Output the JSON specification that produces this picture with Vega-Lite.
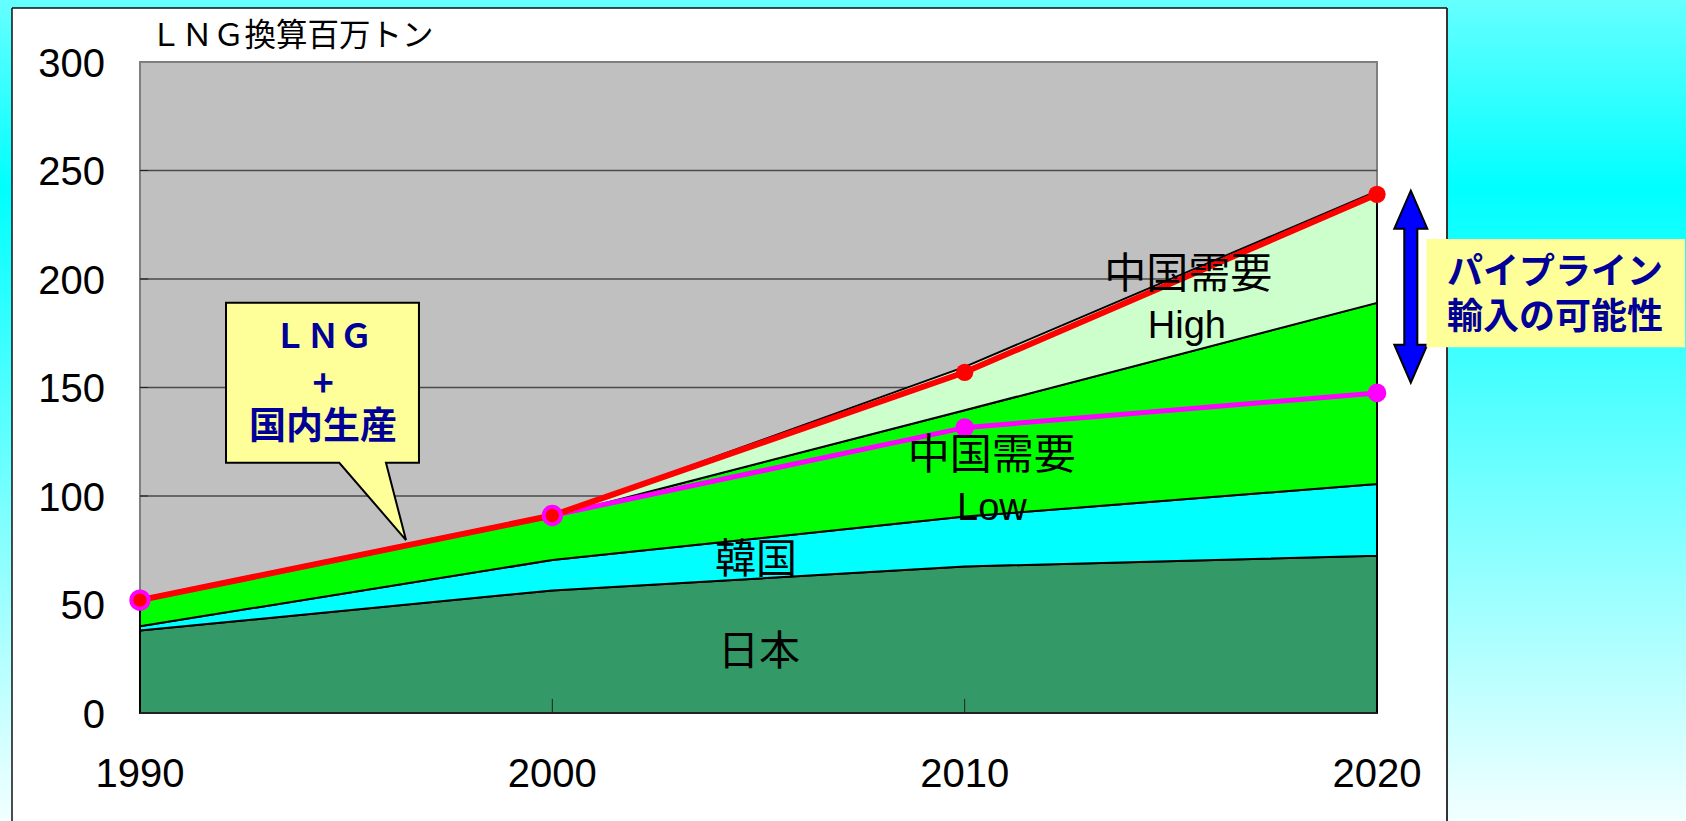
{
  "$schema": "https://vega.github.io/schema/vega-lite/v6.json",
  "width": 1686,
  "height": 821,
  "autosize": "none",
  "padding": 0,
  "background": "#E6FFFF",
  "config": {"view": {"stroke": null}},
  "datasets": {
    "stack": [
      {"year": 1990, "series": "1 日本", "value": 38},
      {"year": 2000, "series": "1 日本", "value": 56.5},
      {"year": 2010, "series": "1 日本", "value": 67.5},
      {"year": 2020, "series": "1 日本", "value": 72.5},
      {"year": 1990, "series": "2 韓国", "value": 2},
      {"year": 2000, "series": "2 韓国", "value": 14},
      {"year": 2010, "series": "2 韓国", "value": 23},
      {"year": 2020, "series": "2 韓国", "value": 33},
      {"year": 1990, "series": "3 中国需要Low", "value": 11.5},
      {"year": 2000, "series": "3 中国需要Low", "value": 20},
      {"year": 2010, "series": "3 中国需要Low", "value": 49},
      {"year": 2020, "series": "3 中国需要Low", "value": 83.5},
      {"year": 1990, "series": "4 中国需要High", "value": 0.5},
      {"year": 2000, "series": "4 中国需要High", "value": 0.5},
      {"year": 2010, "series": "4 中国需要High", "value": 20},
      {"year": 2020, "series": "4 中国需要High", "value": 51.5}
    ],
    "lng_high": [
      {"year": 1990, "value": 52},
      {"year": 2000, "value": 91},
      {"year": 2010, "value": 157},
      {"year": 2020, "value": 239}
    ],
    "lng_low": [
      {"year": 1990, "value": 52},
      {"year": 2000, "value": 91},
      {"year": 2010, "value": 131.5},
      {"year": 2020, "value": 147.5}
    ],
    "yticks": [{"v": 0}, {"v": 50}, {"v": 100}, {"v": 150}, {"v": 200}, {"v": 250}, {"v": 300}],
    "years": [{"year": 1990}, {"year": 2000}, {"year": 2010}, {"year": 2020}]
  },
  "layer": [
    {
      "data": {"values": [{}]},
      "mark": {"type": "rect", "fill": {"gradient": "linear", "x1": 0, "y1": 0, "x2": 0, "y2": 1, "stops": [{"offset": 0, "color": "#66FFFF"}, {"offset": 0.23, "color": "#00FFFF"}, {"offset": 1, "color": "#F2FFFF"}]}},
      "encoding": {
        "x": {"datum": 1986.605, "type": "quantitative", "scale": {"domain": [1986.605, 2027.494], "nice": false, "zero": false}, "axis": null},
        "x2": {"datum": 2027.494},
        "y": {"datum": 328.57, "type": "quantitative", "scale": {"domain": [-49.77, 328.57], "nice": false, "zero": false}, "axis": null},
        "y2": {"datum": -49.77}
      }
    },
    {
      "data": {"values": [{}]},
      "mark": {"type": "rect", "fill": "#FFFFFF"},
      "encoding": {
        "x": {"datum": 1986.896, "type": "quantitative", "scale": {"domain": [1986.605, 2027.494], "nice": false, "zero": false}, "axis": null},
        "x2": {"datum": 2021.698},
        "y": {"datum": 324.88, "type": "quantitative", "scale": {"domain": [-49.77, 328.57], "nice": false, "zero": false}, "axis": null},
        "y2": {"datum": -49.77}
      }
    },
    {
      "data": {"values": [{}]},
      "mark": {"type": "rule", "stroke": "#111111", "strokeWidth": 1.5},
      "encoding": {
        "x": {"datum": 1986.896, "type": "quantitative", "scale": {"domain": [1986.605, 2027.494], "nice": false, "zero": false}, "axis": null},
        "y": {"datum": 324.88, "type": "quantitative", "scale": {"domain": [-49.77, 328.57], "nice": false, "zero": false}, "axis": null},
        "y2": {"datum": -49.77}
      }
    },
    {
      "data": {"values": [{}]},
      "mark": {"type": "rule", "stroke": "#333333", "strokeWidth": 2},
      "encoding": {
        "x": {"datum": 2021.698, "type": "quantitative", "scale": {"domain": [1986.605, 2027.494], "nice": false, "zero": false}, "axis": null},
        "y": {"datum": 324.88, "type": "quantitative", "scale": {"domain": [-49.77, 328.57], "nice": false, "zero": false}, "axis": null},
        "y2": {"datum": -49.77}
      }
    },
    {
      "data": {"values": [{}]},
      "mark": {"type": "rule", "stroke": "#111111", "strokeWidth": 1.5},
      "encoding": {
        "x": {"datum": 1986.896, "type": "quantitative", "scale": {"domain": [1986.605, 2027.494], "nice": false, "zero": false}, "axis": null},
        "x2": {"datum": 2021.698},
        "y": {"datum": 324.88, "type": "quantitative", "scale": {"domain": [-49.77, 328.57], "nice": false, "zero": false}, "axis": null}
      }
    },
    {
      "data": {"values": [{}]},
      "mark": {"type": "rect", "fill": "#C0C0C0", "stroke": "#7F7F7F", "strokeWidth": 2},
      "encoding": {
        "x": {"datum": 1990, "type": "quantitative", "scale": {"domain": [1986.605, 2027.494], "nice": false, "zero": false}, "axis": null},
        "x2": {"datum": 2020},
        "y": {"datum": 300, "type": "quantitative", "scale": {"domain": [-49.77, 328.57], "nice": false, "zero": false}, "axis": null},
        "y2": {"datum": 0}
      }
    },
    {
      "data": {"name": "yticks"},
      "transform": [{"filter": "datum.v > 0 && datum.v < 300"}],
      "mark": {"type": "rule", "stroke": "#4A4A4A", "strokeWidth": 1.6},
      "encoding": {
        "x": {"datum": 1990, "type": "quantitative", "scale": {"domain": [1986.605, 2027.494], "nice": false, "zero": false}, "axis": null},
        "x2": {"datum": 2020},
        "y": {"field": "v", "type": "quantitative", "scale": {"domain": [-49.77, 328.57], "nice": false, "zero": false}, "axis": null}
      }
    },
    {
      "data": {"name": "stack"},
      "mark": {"type": "area", "stroke": "#000000", "strokeWidth": 2, "strokeJoin": "round"},
      "encoding": {
        "x": {"field": "year", "type": "quantitative", "scale": {"domain": [1986.605, 2027.494], "nice": false, "zero": false}, "axis": null},
        "y": {"field": "value", "type": "quantitative", "stack": "zero", "scale": {"domain": [-49.77, 328.57], "nice": false, "zero": false}, "axis": null},
        "color": {"field": "series", "type": "nominal", "scale": {"domain": ["1 日本", "2 韓国", "3 中国需要Low", "4 中国需要High"], "range": ["#339966", "#00FFFF", "#00FF00", "#CCFFCC"]}, "legend": null},
        "order": {"field": "series", "type": "ordinal", "sort": "ascending"}
      }
    },
    {
      "data": {"name": "years"},
      "transform": [{"filter": "datum.year > 1990 && datum.year < 2020"}],
      "mark": {"type": "rule", "stroke": "#222222", "strokeWidth": 1},
      "encoding": {
        "x": {"field": "year", "type": "quantitative", "scale": {"domain": [1986.605, 2027.494], "nice": false, "zero": false}, "axis": null},
        "y": {"datum": 0, "type": "quantitative", "scale": {"domain": [-49.77, 328.57], "nice": false, "zero": false}, "axis": null},
        "y2": {"datum": 6.5}
      }
    },
    {
      "data": {"name": "yticks"},
      "transform": [{"filter": "datum.v > 0 && datum.v < 300"}],
      "mark": {"type": "rule", "stroke": "#222222", "strokeWidth": 1},
      "encoding": {
        "x": {"datum": 1990, "type": "quantitative", "scale": {"domain": [1986.605, 2027.494], "nice": false, "zero": false}, "axis": null},
        "x2": {"datum": 1990.2},
        "y": {"field": "v", "type": "quantitative", "scale": {"domain": [-49.77, 328.57], "nice": false, "zero": false}, "axis": null}
      }
    },
    {
      "data": {"values": [{}]},
      "mark": {"type": "rule", "stroke": "#222222", "strokeWidth": 2},
      "encoding": {
        "x": {"datum": 1990, "type": "quantitative", "scale": {"domain": [1986.605, 2027.494], "nice": false, "zero": false}, "axis": null},
        "x2": {"datum": 2020},
        "y": {"datum": 0, "type": "quantitative", "scale": {"domain": [-49.77, 328.57], "nice": false, "zero": false}, "axis": null}
      }
    },
    {
      "data": {"name": "lng_low"},
      "mark": {"type": "line", "stroke": "#FF00FF", "strokeWidth": 5},
      "encoding": {
        "x": {"field": "year", "type": "quantitative", "scale": {"domain": [1986.605, 2027.494], "nice": false, "zero": false}, "axis": null},
        "y": {"field": "value", "type": "quantitative", "scale": {"domain": [-49.77, 328.57], "nice": false, "zero": false}, "axis": null}
      }
    },
    {
      "data": {"name": "lng_low"},
      "mark": {"type": "point", "filled": true, "fill": "#FF00FF", "size": 346, "opacity": 1},
      "encoding": {
        "x": {"field": "year", "type": "quantitative", "scale": {"domain": [1986.605, 2027.494], "nice": false, "zero": false}, "axis": null},
        "y": {"field": "value", "type": "quantitative", "scale": {"domain": [-49.77, 328.57], "nice": false, "zero": false}, "axis": null}
      }
    },
    {
      "data": {"name": "lng_high"},
      "mark": {"type": "line", "stroke": "#FF0000", "strokeWidth": 6},
      "encoding": {
        "x": {"field": "year", "type": "quantitative", "scale": {"domain": [1986.605, 2027.494], "nice": false, "zero": false}, "axis": null},
        "y": {"field": "value", "type": "quantitative", "scale": {"domain": [-49.77, 328.57], "nice": false, "zero": false}, "axis": null}
      }
    },
    {
      "data": {"name": "lng_high"},
      "mark": {"type": "point", "filled": true, "fill": "#FF0000", "size": 300, "strokeWidth": 4, "opacity": 1},
      "encoding": {
        "x": {"field": "year", "type": "quantitative", "scale": {"domain": [1986.605, 2027.494], "nice": false, "zero": false}, "axis": null},
        "y": {"field": "value", "type": "quantitative", "scale": {"domain": [-49.77, 328.57], "nice": false, "zero": false}, "axis": null},
        "stroke": {"condition": {"test": "datum.year <= 2000", "value": "#FF00FF"}, "value": "transparent"}
      }
    },
    {
      "data": {"name": "yticks"},
      "mark": {"type": "text", "font": "Liberation Sans", "fontSize": 40, "align": "right", "baseline": "middle", "dx": -35, "dy": 3, "fill": "#000000"},
      "encoding": {
        "x": {"datum": 1990, "type": "quantitative", "scale": {"domain": [1986.605, 2027.494], "nice": false, "zero": false}, "axis": null},
        "y": {"field": "v", "type": "quantitative", "scale": {"domain": [-49.77, 328.57], "nice": false, "zero": false}, "axis": null},
        "text": {"field": "v", "type": "quantitative", "format": "d"}
      }
    },
    {
      "data": {"name": "years"},
      "mark": {"type": "text", "font": "Liberation Sans", "fontSize": 40, "align": "center", "baseline": "middle", "dy": 62, "fill": "#000000"},
      "encoding": {
        "x": {"field": "year", "type": "quantitative", "scale": {"domain": [1986.605, 2027.494], "nice": false, "zero": false}, "axis": null},
        "y": {"datum": 0, "type": "quantitative", "scale": {"domain": [-49.77, 328.57], "nice": false, "zero": false}, "axis": null},
        "text": {"field": "year", "type": "quantitative", "format": "d"}
      }
    },
    {
      "data": {"values": [{}]},
      "mark": {"type": "text", "text": "ＬＮＧ換算百万トン", "font": "Noto Sans CJK JP", "fontSize": 31.5, "align": "left", "baseline": "middle", "fill": "#000000"},
      "encoding": {
        "x": {"datum": 1990.24, "type": "quantitative", "scale": {"domain": [1986.605, 2027.494], "nice": false, "zero": false}, "axis": null},
        "y": {"datum": 311.5, "type": "quantitative", "scale": {"domain": [-49.77, 328.57], "nice": false, "zero": false}, "axis": null}
      }
    },
    {
      "data": {"values": [{}]},
      "mark": {"type": "text", "text": "日本", "font": "Noto Sans CJK JP", "fontSize": 41, "align": "center", "baseline": "middle", "fill": "#000000"},
      "encoding": {
        "x": {"datum": 2005.01, "type": "quantitative", "scale": {"domain": [1986.605, 2027.494], "nice": false, "zero": false}, "axis": null},
        "y": {"datum": 27.6, "type": "quantitative", "scale": {"domain": [-49.77, 328.57], "nice": false, "zero": false}, "axis": null}
      }
    },
    {
      "data": {"values": [{}]},
      "mark": {"type": "text", "text": "韓国", "font": "Noto Sans CJK JP", "fontSize": 41, "align": "center", "baseline": "middle", "fill": "#000000"},
      "encoding": {
        "x": {"datum": 2004.94, "type": "quantitative", "scale": {"domain": [1986.605, 2027.494], "nice": false, "zero": false}, "axis": null},
        "y": {"datum": 70.0, "type": "quantitative", "scale": {"domain": [-49.77, 328.57], "nice": false, "zero": false}, "axis": null}
      }
    },
    {
      "data": {"values": [{}]},
      "mark": {"type": "text", "text": "中国需要", "font": "Noto Sans CJK JP", "fontSize": 42, "align": "center", "baseline": "middle", "fill": "#000000"},
      "encoding": {
        "x": {"datum": 2010.66, "type": "quantitative", "scale": {"domain": [1986.605, 2027.494], "nice": false, "zero": false}, "axis": null},
        "y": {"datum": 118.4, "type": "quantitative", "scale": {"domain": [-49.77, 328.57], "nice": false, "zero": false}, "axis": null}
      }
    },
    {
      "data": {"values": [{}]},
      "mark": {"type": "text", "text": "Low", "font": "Liberation Sans", "fontSize": 38, "align": "center", "baseline": "middle", "fill": "#000000"},
      "encoding": {
        "x": {"datum": 2010.66, "type": "quantitative", "scale": {"domain": [1986.605, 2027.494], "nice": false, "zero": false}, "axis": null},
        "y": {"datum": 93.8, "type": "quantitative", "scale": {"domain": [-49.77, 328.57], "nice": false, "zero": false}, "axis": null}
      }
    },
    {
      "data": {"values": [{}]},
      "mark": {"type": "text", "text": "中国需要", "font": "Noto Sans CJK JP", "fontSize": 42, "align": "center", "baseline": "middle", "fill": "#000000"},
      "encoding": {
        "x": {"datum": 2015.42, "type": "quantitative", "scale": {"domain": [1986.605, 2027.494], "nice": false, "zero": false}, "axis": null},
        "y": {"datum": 201.8, "type": "quantitative", "scale": {"domain": [-49.77, 328.57], "nice": false, "zero": false}, "axis": null}
      }
    },
    {
      "data": {"values": [{}]},
      "mark": {"type": "text", "text": "High", "font": "Liberation Sans", "fontSize": 38, "align": "center", "baseline": "middle", "fill": "#000000"},
      "encoding": {
        "x": {"datum": 2015.39, "type": "quantitative", "scale": {"domain": [1986.605, 2027.494], "nice": false, "zero": false}, "axis": null},
        "y": {"datum": 177.9, "type": "quantitative", "scale": {"domain": [-49.77, 328.57], "nice": false, "zero": false}, "axis": null}
      }
    },
    {
      "data": {"values": [{}]},
      "mark": {"type": "point", "shape": "M-0.804,-0.989 L0.804,-0.989 L0.804,0.345 L0.529,0.345 L0.696,0.989 L0.14,0.345 L-0.804,0.345 Z", "size": 57600, "filled": true, "fill": "#FFFF99", "stroke": "#000000", "strokeWidth": 2, "opacity": 1},
      "encoding": {
        "x": {"datum": 1994.426, "type": "quantitative", "scale": {"domain": [1986.605, 2027.494], "nice": false, "zero": false}, "axis": null},
        "y": {"datum": 134.4, "type": "quantitative", "scale": {"domain": [-49.77, 328.57], "nice": false, "zero": false}, "axis": null}
      }
    },
    {
      "data": {"values": [{}]},
      "mark": {"type": "text", "text": "ＬＮＧ", "font": "Noto Sans CJK JP", "fontSize": 33, "fontWeight": "bold", "align": "center", "baseline": "middle", "fill": "#000099"},
      "encoding": {
        "x": {"datum": 1994.44, "type": "quantitative", "scale": {"domain": [1986.605, 2027.494], "nice": false, "zero": false}, "axis": null},
        "y": {"datum": 172.8, "type": "quantitative", "scale": {"domain": [-49.77, 328.57], "nice": false, "zero": false}, "axis": null}
      }
    },
    {
      "data": {"values": [{}]},
      "mark": {"type": "text", "text": "+", "font": "Noto Sans CJK JP", "fontSize": 36, "fontWeight": "bold", "align": "center", "baseline": "middle", "fill": "#000099"},
      "encoding": {
        "x": {"datum": 1994.44, "type": "quantitative", "scale": {"domain": [1986.605, 2027.494], "nice": false, "zero": false}, "axis": null},
        "y": {"datum": 151.2, "type": "quantitative", "scale": {"domain": [-49.77, 328.57], "nice": false, "zero": false}, "axis": null}
      }
    },
    {
      "data": {"values": [{}]},
      "mark": {"type": "text", "text": "国内生産", "font": "Noto Sans CJK JP", "fontSize": 37, "fontWeight": "bold", "align": "center", "baseline": "middle", "fill": "#000099"},
      "encoding": {
        "x": {"datum": 1994.44, "type": "quantitative", "scale": {"domain": [1986.605, 2027.494], "nice": false, "zero": false}, "axis": null},
        "y": {"datum": 131.3, "type": "quantitative", "scale": {"domain": [-49.77, 328.57], "nice": false, "zero": false}, "axis": null}
      }
    },
    {
      "data": {"values": [{}]},
      "mark": {"type": "point", "shape": "M0,-1 L0.172,-0.604 L0.068,-0.604 L0.068,0.604 L0.172,0.604 L0,1 L-0.172,0.604 L-0.068,0.604 L-0.068,-0.604 L-0.172,-0.604 Z", "size": 36864, "filled": true, "fill": "#0000FF", "stroke": "#000000", "strokeWidth": 2, "opacity": 1},
      "encoding": {
        "x": {"datum": 2020.82, "type": "quantitative", "scale": {"domain": [1986.605, 2027.494], "nice": false, "zero": false}, "axis": null},
        "y": {"datum": 196.45, "type": "quantitative", "scale": {"domain": [-49.77, 328.57], "nice": false, "zero": false}, "axis": null}
      }
    },
    {
      "data": {"values": [{}]},
      "mark": {"type": "rect", "fill": "#FFFF99"},
      "encoding": {
        "x": {"datum": 2021.2, "type": "quantitative", "scale": {"domain": [1986.605, 2027.494], "nice": false, "zero": false}, "axis": null},
        "x2": {"datum": 2027.47},
        "y": {"datum": 218.4, "type": "quantitative", "scale": {"domain": [-49.77, 328.57], "nice": false, "zero": false}, "axis": null},
        "y2": {"datum": 168.5}
      }
    },
    {
      "data": {"values": [{}]},
      "mark": {"type": "text", "text": "パイプライン", "font": "Noto Sans CJK JP", "fontSize": 36, "fontWeight": "bold", "align": "left", "baseline": "middle", "fill": "#000099"},
      "encoding": {
        "x": {"datum": 2021.7, "type": "quantitative", "scale": {"domain": [1986.605, 2027.494], "nice": false, "zero": false}, "axis": null},
        "y": {"datum": 202.8, "type": "quantitative", "scale": {"domain": [-49.77, 328.57], "nice": false, "zero": false}, "axis": null}
      }
    },
    {
      "data": {"values": [{}]},
      "mark": {"type": "text", "text": "輸入の可能性", "font": "Noto Sans CJK JP", "fontSize": 36, "fontWeight": "bold", "align": "left", "baseline": "middle", "fill": "#000099"},
      "encoding": {
        "x": {"datum": 2021.7, "type": "quantitative", "scale": {"domain": [1986.605, 2027.494], "nice": false, "zero": false}, "axis": null},
        "y": {"datum": 182.0, "type": "quantitative", "scale": {"domain": [-49.77, 328.57], "nice": false, "zero": false}, "axis": null}
      }
    }
  ]
}
